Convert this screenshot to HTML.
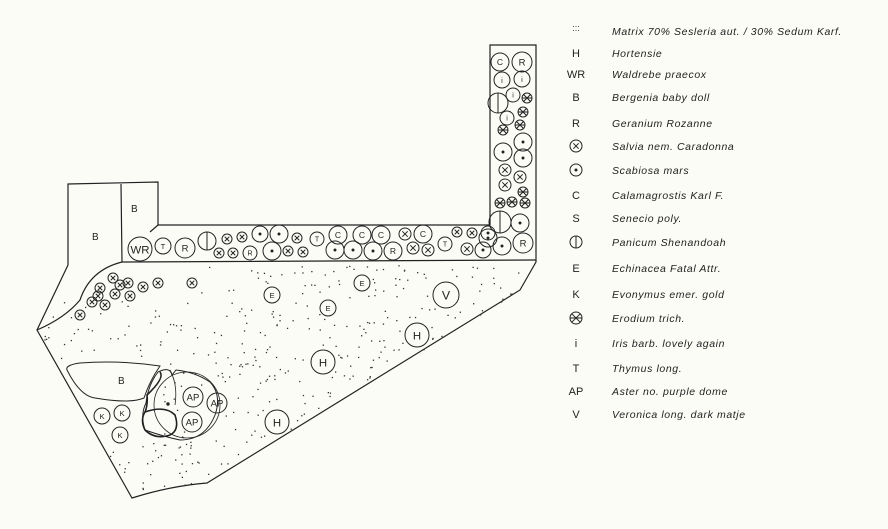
<!DOCTYPE html>
<html><head><meta charset="utf-8"><style>
html,body{margin:0;padding:0;background:#fcfcf7;}
svg{display:block;}
text{font-family:"Liberation Sans",sans-serif;fill:#222;}
.lg{font-size:10.5px;font-style:italic;letter-spacing:0.6px;}
.sy{font-size:11px;}
</style></head><body>
<svg id="s" width="888" height="529" viewBox="0 0 888 529" xmlns="http://www.w3.org/2000/svg">
<rect width="888" height="529" fill="#fcfcf7"/>
<g fill="none" stroke="#222" stroke-width="1.2">
<path d="M68,184 L158,182 L158,225 L490,225 L490,45 L536,45 L536,262 L520,290 L207,483 Q170,486 132,498 L37,330 L68,265 Z"/>
<path d="M121,184 L122,262 L536,260"/>
<path d="M122,262 Q90,270 80,300 Q65,318 37,330"/>
<path d="M158,225 L150,232" />
<path d="M67,370 Q65,365 80,363 Q120,360 160,366 Q150,380 144,398 Q130,404 95,398 Q80,396 67,370 Z" stroke-width="1"/>
<path d="M158,372 Q170,366 172,375 L176,370 Q195,372 210,382 Q222,395 215,415 Q205,440 180,440 Q165,437 145,430 Q140,415 146,403 Q148,385 158,372 Z" stroke-width="1"/>
<path d="M145,412 Q165,405 175,415 Q180,430 170,435 Q155,440 145,430 Q140,420 145,412 Z" stroke-width="1.6"/>
<path d="M160,372 Q165,378 147,395 Q148,405 145,412" stroke-width="1.6"/>
<path d="M170,370 Q178,385 175,405" stroke-width="0.8"/>
<circle cx="187" cy="405" r="33" stroke-width="0.8"/>
</g>
<g id="dots" fill="#333"></g>
<g id="pl" fill="none" stroke="#222" stroke-width="1"></g>
<g id="lgs" fill="none" stroke="#222" stroke-width="1"></g>
<g id="lg"></g>
</svg>
<script>
var NS="http://www.w3.org/2000/svg";
function el(p,t,a,txt){var e=document.createElementNS(NS,t);for(var k in a)e.setAttribute(k,a[k]);if(txt)e.textContent=txt;p.appendChild(e);return e;}
var pl=document.getElementById('pl');
function c(x,y,r,kind,lab){
 el(pl,'circle',{cx:x,cy:y,r:r});
 if(kind=='x'){var d=r*0.45;el(pl,'path',{d:'M'+(x-d)+','+(y-d)+'L'+(x+d)+','+(y+d)+'M'+(x+d)+','+(y-d)+'L'+(x-d)+','+(y+d)});}
 else if(kind=='e'){var d=r*0.7;el(pl,'path',{d:'M'+(x-d)+','+(y-d)+'L'+(x+d)+','+(y+d)+'M'+(x+d)+','+(y-d)+'L'+(x-d)+','+(y+d)+'M'+(x-r)+','+y+'L'+(x+r)+','+y});}
 else if(kind=='.'){el(pl,'circle',{cx:x,cy:y,r:1,fill:'#222'});}
 else if(kind=='|'){el(pl,'path',{d:'M'+x+','+(y-r)+'L'+x+','+(y+r)});}
 else if(lab){el(pl,'text',{x:x,y:y+r*0.36,'text-anchor':'middle','font-size':Math.max(7,r*0.95),stroke:'none',fill:'#222'},lab);}
}
var P=[
[140,249,12,'t','WR'],[163,246,8,'t','T'],[185,248,10,'t','R'],[207,241,9,'|'],
[227,239,5,'x'],[242,237,5,'x'],[260,234,8,'.'],[279,234,9,'.'],[297,238,5,'x'],[317,239,7,'t','T'],
[338,235,9,'t','C'],[362,235,9,'t','C'],[381,235,9,'t','C'],[405,234,6,'x'],[423,234,9,'t','C'],
[457,232,5,'x'],[472,233,5,'x'],[488,233,7,'.'],
[219,253,5,'x'],[233,253,5,'x'],[250,253,7,'t','R'],[272,251,9,'.'],[288,251,5,'x'],[303,252,5,'x'],
[335,250,9,'.'],[353,250,9,'.'],[373,251,9,'.'],[393,251,9,'t','R'],[413,248,6,'x'],[428,250,6,'x'],[445,244,7,'t','T'],
[467,249,6,'x'],[483,250,8,'.'],[502,246,9,'.'],[523,243,10,'t','R'],
[500,62,9,'t','C'],[522,62,10,'t','R'],[502,80,8,'t','i'],[522,79,8,'t','i'],[498,103,10,'|'],[513,95,7,'t','i'],[527,98,5,'e'],
[507,118,7,'t','i'],[523,112,5,'e'],[520,125,5,'e'],[503,130,5,'e'],[523,142,9,'.'],[503,152,9,'.'],[523,158,9,'.'],
[505,170,6,'x'],[520,177,6,'x'],[505,185,6,'x'],[523,192,5,'e'],[500,203,5,'e'],[512,202,5,'e'],[525,203,5,'e'],
[500,222,11,'|'],[520,223,9,'.'],[488,238,9,'.'],
[80,315,5,'x'],[92,302,5,'x'],[100,288,5,'x'],[113,278,5,'x'],[128,283,5,'x'],[143,287,5,'x'],[158,283,5,'x'],[192,283,5,'x'],
[105,305,5,'x'],[115,294,5,'x'],[130,296,5,'x'],[98,296,5,'x'],[120,285,5,'x'],
[272,295,8,'t','E'],[328,308,8,'t','E'],[362,283,8,'t','E'],[446,295,13,'t','V'],[417,335,12,'t','H'],[323,362,12,'t','H'],[277,422,12,'t','H'],
[193,397,10,'t','AP'],[217,403,10,'t','AP'],[192,422,10,'t','AP'],[102,416,8,'t','K'],[122,413,8,'t','K'],[120,435,8,'t','K']
];
P.forEach(function(p){c(p[0],p[1],p[2],p[3],p[4]);});
el(pl,'text',{x:92,y:240,'font-size':10,stroke:'none',fill:'#222'},'B');
el(pl,'text',{x:131,y:212,'font-size':10,stroke:'none',fill:'#222'},'B');
el(pl,'text',{x:118,y:384,'font-size':10,stroke:'none',fill:'#222'},'B');
el(pl,'circle',{cx:168,cy:404,r:1.2,fill:'#222'});
// stipple
var poly=[[60,300],[122,268],[536,262],[520,290],[207,483],[132,498],[37,330]];
function inside(x,y){var r=false;for(var i=0,j=poly.length-1;i<poly.length;j=i++){var a=poly[i],b=poly[j];if(((a[1]>y)!=(b[1]>y))&&(x<(b[0]-a[0])*(y-a[1])/(b[1]-a[1])+a[0]))r=!r;}return r;}
var sd=12345;function rnd(){sd=(sd*1103515245+12345)%2147483648;return sd/2147483648;}
var circ=P.filter(function(p){return p[1]>265;});
var dg=document.getElementById('dots');var n=0,tries=0;
while(n<330&&tries<20000){tries++;var x=40+rnd()*490,y=265+rnd()*230;if(!inside(x,y))continue;if(x<160&&y>360&&y<440)continue;if(x<200&&y<300)continue;
var bad=false;circ.forEach(function(p){var dx=x-p[0],dy=y-p[1];if(dx*dx+dy*dy<(p[2]+2)*(p[2]+2))bad=true;});if(bad)continue;
el(dg,'rect',{x:x.toFixed(1),y:y.toFixed(1),width:1.3,height:1.3});n++;}
// legend
var lg=document.getElementById('lg'),lgs=document.getElementById('lgs');
var L=[[35,'m','Matrix  70% Sesleria aut. / 30% Sedum Karf.'],[57,'H','Hortensie'],[78,'WR','Waldrebe  praecox'],[101,'B','Bergenia  baby doll'],
[127,'R','Geranium  Rozanne'],[150,'x','Salvia  nem.  Caradonna'],[174,'.','Scabiosa  mars'],[199,'C','Calamagrostis  Karl F.'],
[222,'S','Senecio  poly.'],[246,'|','Panicum  Shenandoah'],[272,'E','Echinacea  Fatal Attr.'],[298,'K','Evonymus  emer. gold'],
[322,'e','Erodium  trich.'],[347,'i','Iris barb.  lovely again'],[372,'T','Thymus  long.'],[395,'AP','Aster  no.  purple dome'],[418,'V','Veronica  long.  dark matje']];
L.forEach(function(l){var y=l[0],s=l[1];
 if(s=='x'||s=='.'||s=='|'||s=='e'){var g=pl;pl=lgs;c(576,y-4,6,s);pl=g;}
 else if(s=='m'){for(var k=0;k<6;k++)el(lg,'rect',{x:573+(k%3)*2.5,y:y-9+Math.floor(k/3)*4,width:1,height:1,fill:'#555'});}
 else el(lg,'text',{x:576,y:y,'text-anchor':'middle','class':'sy'},s);
 el(lg,'text',{x:612,y:y,'class':'lg'},l[2]);
});
</script>
</body></html>
